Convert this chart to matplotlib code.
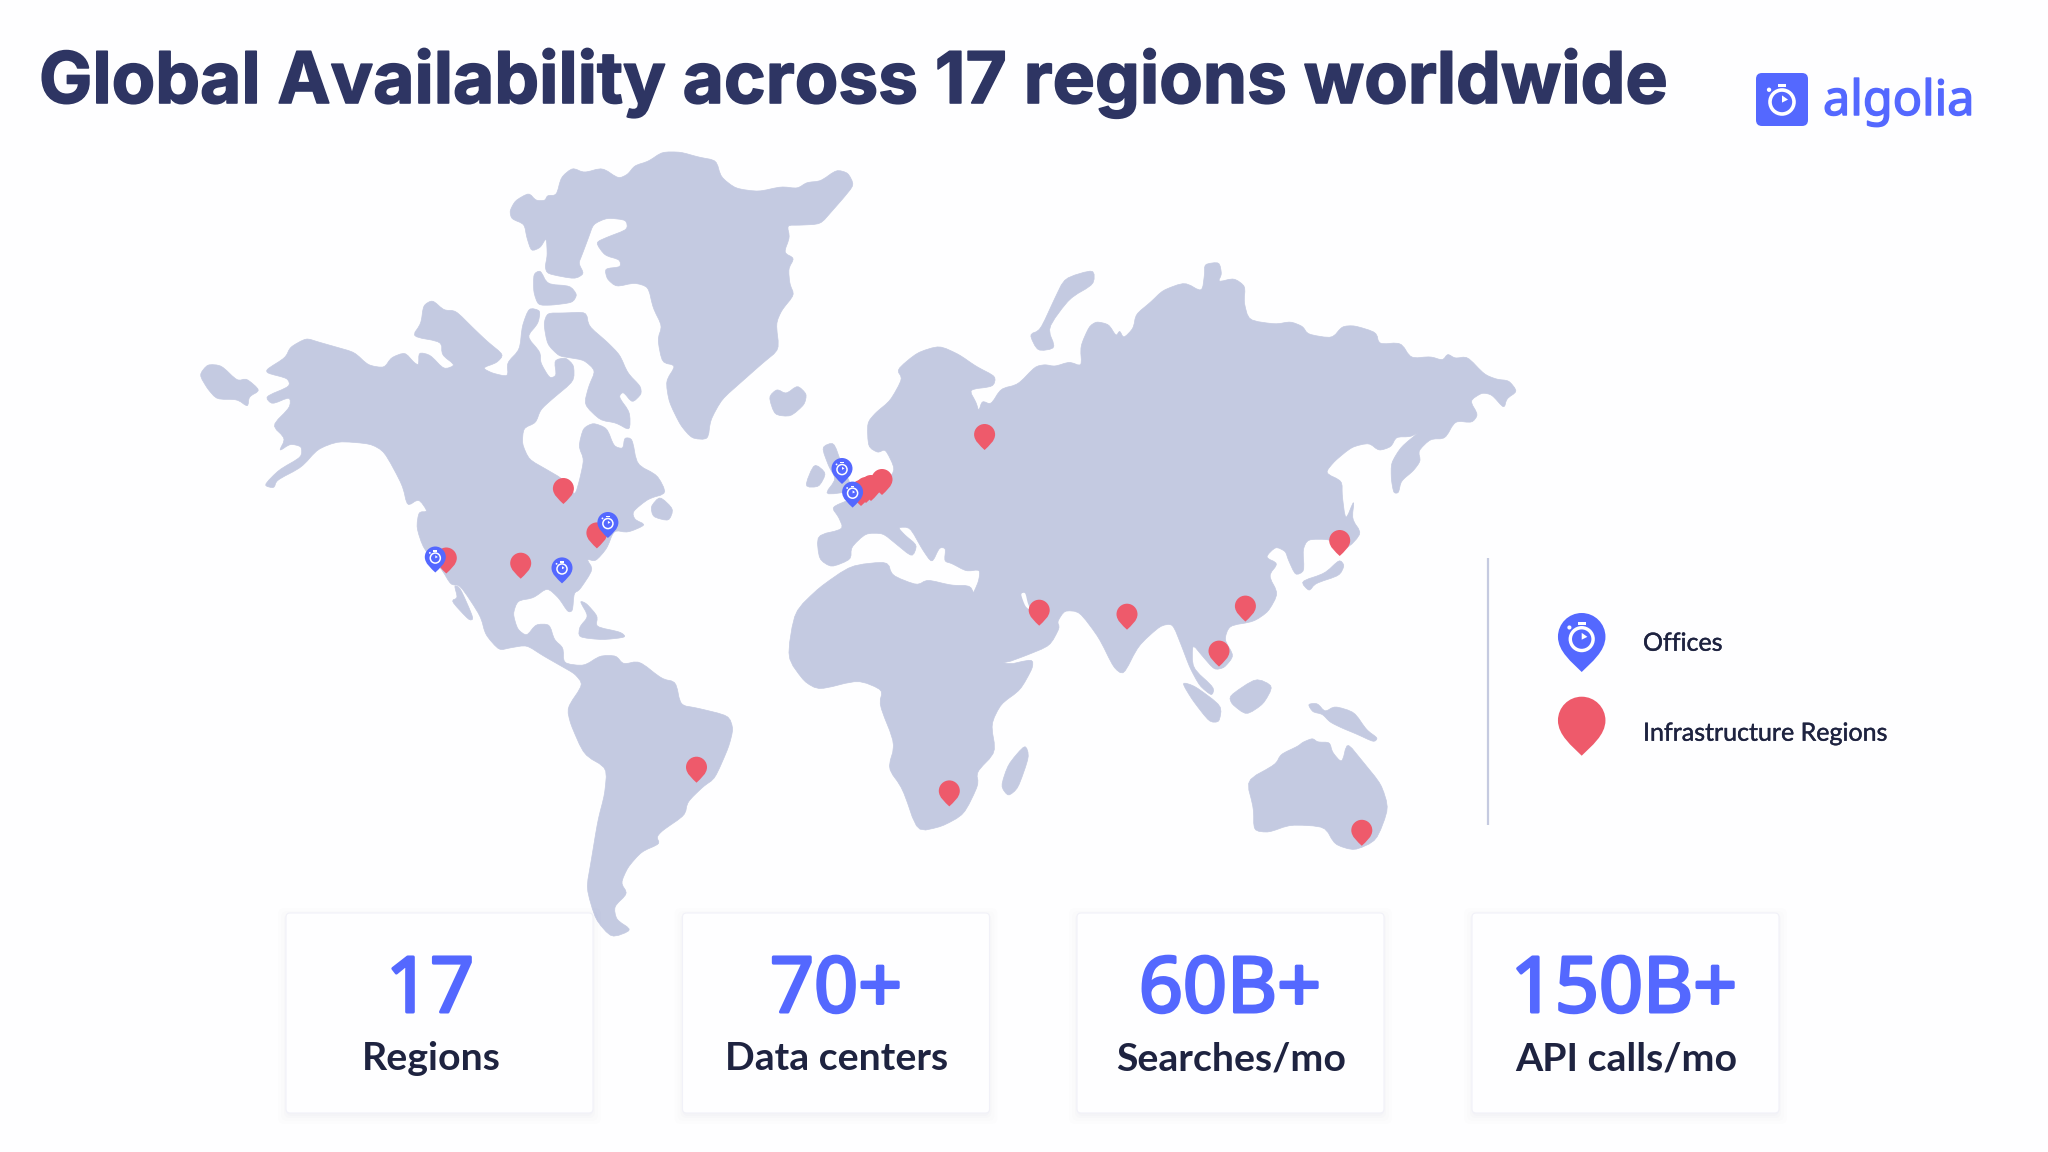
import numpy as np
import matplotlib
matplotlib.use("Agg")
import matplotlib.pyplot as plt
import matplotlib.patheffects as pe
from matplotlib.patches import Polygon, PathPatch, Circle, FancyBboxPatch, Rectangle
from matplotlib.path import Path

TITLE = "Global Availability across 17 regions worldwide"
BRAND = "algolia"
LEGEND_LABELS = ["Offices", "Infrastructure Regions"]
STAT_VALUES = ["17", "70+", "60B+", "150B+"]
STAT_LABELS = ["Regions", "Data centers", "Searches/mo", "API calls/mo"]

# pin tips
REGION_X = [563.4, 520.7, 596.9, 446.3, 696.5, 984.6, 1039.2, 1127, 1245.4, 1219, 1339.7, 949.3, 1361.8, 861, 866, 871, 882]
REGION_Y = [504, 578.7, 548.4, 573.5, 782.7, 450, 625.7, 629.7, 621.6, 666.6, 556, 806.4, 845.8, 506, 503, 501, 495]
OFFICE_X = [435.3, 562, 607.9, 842, 852.6]
OFFICE_Y = [572.5, 583.4, 538, 484, 507.6]

AMERICAS = [
 [(718,155),(730,135),(760,120),(775,135),(795,135),(800,125),(820,125),(830,90),(855,72),(880,82),(920,72),(955,93),(975,85),(990,68),(1020,60),(1050,42),(1090,42),(1130,52),(1168,58),(1178,90),(1210,112),(1260,118),(1310,108),(1345,112),(1365,100),(1395,98),(1430,76),(1455,82),(1468,105),(1445,130),(1420,155),(1395,180),(1350,182),(1322,182),(1328,205),(1315,235),(1338,245),(1325,265),(1328,295),(1338,315),(1310,345),(1298,370),(1305,420),(1270,445),(1225,480),(1180,515),(1155,555),(1150,592),(1115,590),(1090,565),(1065,520),(1058,480),(1080,450),(1050,445),(1040,400),(1050,375),(1030,340),(1020,300),(990,292),(950,300),(930,285),(925,265),(960,262),(958,248),(925,240),(905,215),(930,205),(975,190),(972,172),(930,168),(900,180),(890,205),(875,240),(868,255),(880,275),(860,285),(800,275),(795,262),(800,240),(798,205),(785,225),(765,232),(755,205),(750,180),(722,170)],
 [(770,275),(785,268),(800,295),(850,298),(865,315),(855,330),(810,335),(780,335),(770,310)],
 [(792,370),(800,350),(835,350),(885,348),(890,375),(930,405),(958,430),(975,465),(1003,490),(1005,505),(985,522),(965,500),(955,510),(980,540),(980,575),(950,560),(915,555),(880,525),(890,490),(905,460),(880,440),(845,435),(825,432),(800,410)],
 [(188,458),(230,435),(240,415),(275,398),(300,405),(340,415),(380,425),(410,450),(445,455),(460,435),(490,425),(510,445),(520,450),(520,425),(545,430),(575,458),(600,450),(570,430),(570,405),(505,395),(525,370),(530,335),(550,325),(575,345),(600,345),(640,380),(670,405),(705,430),(690,445),(658,455),(680,465),(715,472),(712,445),(740,420),(745,375),(760,340),(785,345),(780,370),(755,395),(785,425),(785,445),(805,475),(820,470),(815,440),(840,435),(858,450),(858,480),(810,515),(785,535),(775,560),(748,570),(745,600),(760,630),(800,650),(835,668),(860,700),(870,670),(880,630),(868,605),(878,570),(900,560),(930,570),(945,605),(965,610),(968,588),(985,590),(995,640),(1040,660),(1060,695),(1020,705),(985,730),(990,745),(1015,755),(975,770),(945,765),(930,800),(905,825),(885,820),(900,840),(870,880),(858,885),(855,920),(845,922),(825,895),(800,875),(770,895),(735,900),(725,925),(735,955),(755,968),(775,945),(805,945),(815,975),(835,990),(835,1020),(880,1025),(915,1005),(950,1005),(965,1022),(1000,1015),(1050,1050),(1080,1055),(1090,1100),(1125,1105),(1195,1120),(1205,1145),(1195,1180),(1165,1240),(1140,1255),(1105,1285),(1100,1310),(1050,1340),(1038,1352),(1045,1365),(1005,1380),(975,1410),(960,1440),(975,1460),(945,1485),(950,1510),(985,1530),(940,1545),(905,1510),(885,1450),(895,1400),(910,1320),(925,1270),(930,1220),(880,1195),(850,1135),(843,1105),(878,1060),(860,1040),(830,1025),(790,1005),(755,985),(720,990),(695,995),(665,965),(655,930),(610,870),(590,870),(570,840),(530,800),(515,760),(520,730),(540,730),(520,705),(495,720),(485,680),(445,615),(415,600),(345,595),(300,610),(265,645),(210,670),(205,685),(182,680),(215,650),(265,625),(265,605),(240,600),(215,615),(230,590),(200,565),(240,530),(240,510),(200,525),(185,510),(240,490),(235,475),(190,465)],
 [(1025,720),(1045,700),(1075,725),(1065,748),(1030,740)],
 [(597,870),(610,875),(640,935),(630,938),(590,900),(605,895)],
 [(870,900),(885,905),(910,930),(905,950),(960,960),(972,970),(920,975),(868,970),(870,950),(890,930)],
 [(42,468),(60,448),(90,450),(125,480),(145,475),(175,498),(150,510),(148,530),(125,515),(80,515),(60,495)],
 [(1282,510),(1300,495),(1320,505),(1345,488),(1365,505),(1360,525),(1330,548),(1295,545)],
]
OLD_WORLD = [
 [(198,430),(215,405),(245,375),(270,320),(258,298),(300,255),(345,238),(385,260),(420,290),(460,315),(455,340),(405,347),(420,380),(425,402),(432,375),(450,385),(470,345),(505,335),(540,290),(560,285),(580,290),(610,278),(635,290),(632,240),(650,190),(665,178),(690,185),(705,215),(712,200),(720,220),(740,195),(745,160),(775,130),(800,100),(845,80),(880,105),(885,60),(885,35),(915,30),(920,60),(912,80),(945,70),(968,90),(965,130),(975,175),(1030,185),(1060,178),(1085,190),(1095,210),(1145,220),(1165,190),(1190,188),(1235,205),(1240,235),(1285,230),(1305,270),(1345,265),(1370,275),(1380,258),(1395,270),(1420,265),(1455,310),(1480,322),(1505,325),(1522,352),(1500,370),(1495,395),(1470,360),(1450,355),(1425,375),(1442,410),(1430,430),(1395,425),(1375,470),(1345,470),(1320,500),(1325,525),(1310,550),(1285,575),(1280,605),(1270,605),(1265,570),(1265,530),(1285,490),(1325,450),(1305,465),(1275,465),(1265,490),(1240,500),(1220,480),(1185,490),(1150,525),(1130,555),(1165,575),(1165,610),(1172,675),(1190,620),(1185,670),(1205,705),(1175,745),(1140,720),(1095,720),(1085,745),(1088,800),(1070,810),(1055,770),(1050,750),(1030,738),(1008,765),(1035,780),(1015,810),(1035,855),(1015,900),(985,925),(935,935),(925,970),(945,1010),(925,1040),(905,1045),(880,1010),(860,980),(860,1040),(905,1090),(900,1110),(875,1085),(855,1040),(838,985),(820,930),(795,935),(750,985),(720,1058),(700,1040),(670,965),(630,900),(600,897),(585,925),(590,940),(570,985),(520,1010),(475,1030),(455,1000),(425,930),(408,870),(425,825),(428,795),(400,800),(370,780),(355,775),(358,742),(345,740),(330,780),(310,745),(285,690),(260,690),(275,710),(300,735),(290,765),(255,730),(230,705),(195,705),(165,740),(165,770),(125,790),(100,770),(95,710),(150,695),(140,665),(125,640),(165,620),(240,575),(255,545),(235,495),(220,505),(200,490)],
 [(100,840),(165,785),(240,775),(248,810),(300,835),(320,820),(370,835),(410,835),(420,880),(440,960),(475,1035),(535,1018),(535,1040),(510,1095),(470,1130),(450,1180),(460,1250),(420,1300),(425,1330),(395,1405),(350,1435),(300,1448),(270,1340),(240,1290),(255,1230),(222,1130),(230,1095),(180,1070),(100,1095),(70,1075),(35,1015),(50,900)],
 [(105,490),(130,478),(145,530),(170,600),(110,610),(135,570),(120,540)],
 [(70,590),(90,530),(115,555),(100,590)],
 [(528,210),(550,200),(580,120),(600,70),(660,48),(660,85),(610,120),(565,195),(582,245),(545,252)],
 [(470,1335),(485,1280),(520,1230),(528,1260),(505,1340),(485,1360)],
 [(935,1110),(990,1065),(1025,1085),(1005,1130),(970,1158),(940,1130)],
 [(838,1075),(865,1085),(920,1135),(915,1175),(895,1175),(860,1120)],
 [(1095,1130),(1115,1128),(1130,1150),(1150,1135),(1190,1150),(1215,1195),(1238,1215),(1230,1225),(1195,1205),(1165,1190),(1140,1175),(1125,1155),(1105,1150)],
 [(970,1320),(1030,1280),(1040,1255),(1075,1235),(1085,1225),(1105,1215),(1115,1225),(1140,1225),(1145,1250),(1165,1278),(1175,1225),(1205,1270),(1245,1330),(1260,1390),(1235,1470),(1190,1495),(1150,1480),(1130,1435),(1060,1430),(1015,1450),(985,1445),(985,1390)],
 [(1080,825),(1130,805),(1160,770),(1170,785),(1160,810),(1110,830),(1098,850)],
]
GULF = [(510,855),(520,852),(525,880),(532,898),(520,888)]

LAND = "#C4CAE1"; RED = "#EE5A6B"; BLUE = "#5468FF"; DARK = "#1E2340"; TITLE_C = "#2E3563"; BG = "#FEFEFF"
W, H = 2048, 1152
fig = plt.figure(figsize=(20.48, 11.52), dpi=100, facecolor=BG)
ax = fig.add_axes([0, 0, 1, 1])
ax.set_xlim(0, W); ax.set_ylim(H, 0); ax.axis("off")

def smooth(p, cuts=(0.18, 0.25)):
    p = np.asarray(p, float)
    for t in cuts:
        q = np.roll(p, -1, axis=0)
        p = np.column_stack([(1-t)*p + t*q, t*p + (1-t)*q]).reshape(-1, 2)
    return p

to_west = lambda a: np.asarray(a, float) / [1568/720, 1568/820] + [180, 130]
to_east = lambda a: np.asarray(a, float) / [1568/770, 1568/630] + [770, 250]
for poly in AMERICAS:
    ax.add_patch(Polygon(smooth(to_west(poly)), closed=True, fc=LAND, ec=LAND, lw=0.5, zorder=1))
for poly in OLD_WORLD:
    ax.add_patch(Polygon(smooth(to_east(poly)), closed=True, fc=LAND, ec=LAND, lw=0.5, zorder=1))
ax.add_patch(Polygon(smooth(to_east(GULF)), closed=True, fc=BG, ec="none", zorder=1.5))

def pin(x, y, w, h, color, z, watch=False):
    r = w/2; cy = y - h + r
    k = 0.5523*r
    verts = [(x, y), (x-0.40*r, y-0.16*h), (x-r, cy+0.62*r), (x-r, cy),
             (x-r, cy-k), (x-k, cy-r), (x, cy-r),
             (x+k, cy-r), (x+r, cy-k), (x+r, cy),
             (x+r, cy+0.62*r), (x+0.40*r, y-0.16*h), (x, y), (x, y)]
    codes = [Path.MOVETO] + [Path.CURVE4]*12 + [Path.CLOSEPOLY]
    ax.add_patch(PathPatch(Path(verts, codes), fc=color, ec="none", zorder=z))
    if watch:
        stopwatch(x, cy + 0.10*r, 0.48*r, z + 0.1, "white", color)

def stopwatch(x, y, r, z, fg, bg):
    lw = r*0.30*0.72
    ax.add_patch(Rectangle((x-0.36*r, y-1.5*r), 0.72*r, 0.26*r, fc=fg, ec="none", zorder=z))
    ax.add_patch(Circle((x-1.08*r, y-1.02*r), 0.18*r, fc=fg, ec="none", zorder=z))
    ax.add_patch(Circle((x, y), r, fc=bg, ec=fg, lw=lw, zorder=z))
    ax.add_patch(Polygon([(x, y-0.55*r), (x+0.5*r, y-0.2*r), (x, y+0.05*r)], closed=True, fc=fg, ec="none", zorder=z))

for i, (x, y) in enumerate(zip(REGION_X, REGION_Y)):
    pin(x, y, 21, 26, RED, 3 + i*0.01)
for i, (x, y) in enumerate(zip(OFFICE_X, OFFICE_Y)):
    pin(x, y, 21, 26, BLUE, 4 + i*0.2, watch=True)

def heavy(px, c):
    return [pe.withStroke(linewidth=px*0.72, foreground=c)]

# divider
ax.plot([1488, 1488], [558, 825], color="#C5CAE0", lw=1.6, solid_capstyle="butt", zorder=2)

# legend
pin(1581.7, 672, 47.5, 59, BLUE, 5, watch=True)
pin(1581.7, 755.7, 47.5, 59, RED, 5)
ax.text(1643, 650.7, LEGEND_LABELS[0], family="Lato", fontsize=18, color=DARK, va="baseline", ha="left",
        path_effects=heavy(0.4, DARK))
ax.text(1643, 740.7, LEGEND_LABELS[1], family="Lato", fontsize=18, color=DARK, va="baseline", ha="left",
        path_effects=heavy(0.4, DARK))

# title
ax.text(39, 103, TITLE, family="Inter", fontweight="bold", fontsize=51.2, color=TITLE_C, va="baseline", ha="left",
        path_effects=heavy(1.6, TITLE_C))

# logo
ax.add_patch(FancyBboxPatch((1760, 77), 44, 45, boxstyle="round,pad=4,rounding_size=6", fc=BLUE, ec="none", zorder=3))
stopwatch(1782, 102, 12, 4, "white", BLUE)
ax.text(1823, 115, BRAND, family="Noto Sans", fontsize=35, color=BLUE, va="baseline", ha="left",
        path_effects=heavy(1.5, BLUE))

# stat cards
CARD_L = [286, 682.5, 1077, 1472]
NUM_X = [430, 836, 1230, 1624]
LAB_X = [431, 837, 1231, 1626]
for l, nx, lx, v, t in zip(CARD_L, NUM_X, LAB_X, STAT_VALUES, STAT_LABELS):
    for d, a in [(10, 0.006), (7, 0.008), (4, 0.012), (2, 0.016)]:
        ax.add_patch(FancyBboxPatch((l-d+2, 913-d+5), 303+2*d, 196+2*d, boxstyle="round,pad=0,rounding_size=6",
                                    fc="#3A3F7A", ec="none", alpha=a, zorder=6))
    ax.add_patch(FancyBboxPatch((l, 913), 307, 200, boxstyle="round,pad=0,rounding_size=4", fc=BG,
                                ec="#F1F1F8", lw=0.8, zorder=7))
    ax.text(nx, 1012, v, family="Noto Sans", fontsize=55.5, color=BLUE, va="baseline", ha="center", zorder=8,
            path_effects=heavy(3.0, BLUE))
    ax.text(lx, 1070, t, family="Lato", fontweight="bold", fontsize=28.3, color=DARK, va="baseline", ha="center", zorder=8)

fig.savefig("out.png", dpi=100, facecolor=fig.get_facecolor())
